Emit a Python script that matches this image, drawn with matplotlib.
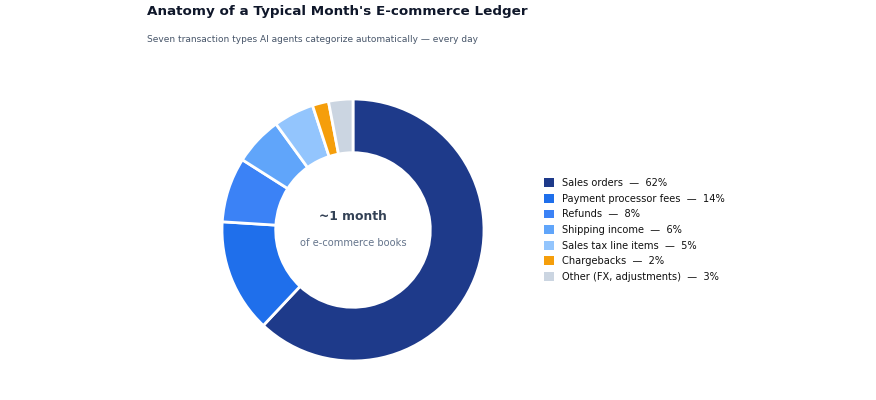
import matplotlib
matplotlib.use("Agg")
import matplotlib.pyplot as plt
from matplotlib.patches import Patch

categories = ["Sales orders", "Payment processor fees", "Refunds", "Shipping income",
              "Sales tax line items", "Chargebacks", "Other (FX, adjustments)"]
values = [62, 14, 8, 6, 5, 2, 3]
colors = ["#1e3a8a", "#1f6feb", "#3b82f6", "#60a5fa", "#93c5fd", "#f59e0b", "#cbd5e1"]

plt.rcParams['font.family'] = ['DejaVu Sans']

fig = plt.figure(figsize=(8.76, 4.0), dpi=100)
fig.patch.set_facecolor("white")

ax = fig.add_axes([(353 - 131) / 876, (400 - 230 - 131) / 400, 262 / 876, 262 / 400])
ax.pie(values, colors=colors, startangle=90, counterclock=False,
       wedgeprops=dict(width=0.41, edgecolor="white", linewidth=2))
ax.set_aspect("equal")
ax.set_xlim(-1.0, 1.0)
ax.set_ylim(-1.0, 1.0)

ax.text(0, 0.10, "~1 month", ha="center", va="center", fontsize=8.9,
        fontweight="bold", color="#334155")
ax.text(0, -0.10, "of e-commerce books", ha="center", va="center", fontsize=7.1,
        color="#64748b")

fig.text(147 / 876, 1 - 12 / 400, "Anatomy of a Typical Month's E-commerce Ledger",
         fontsize=9.7, fontweight="bold", color="#0f172a", ha="left", va="center")
fig.text(147 / 876, 1 - 39 / 400, "Seven transaction types AI agents categorize automatically \u2014 every day",
         fontsize=6.45, color="#475569", ha="left", va="center")

handles = [Patch(facecolor=c, edgecolor="none") for c in colors]
labels = [f"{c}  \u2014  {v}%" for c, v in zip(categories, values)]
fig.legend(handles, labels, loc="center left", bbox_to_anchor=(535 / 876, 1 - 230 / 400),
           frameon=False, fontsize=7.1, handlelength=1.0, handleheight=1.0,
           handletextpad=0.85, labelspacing=0.57, labelcolor="#111111")

fig.savefig("out.png", dpi=100, facecolor="white")
